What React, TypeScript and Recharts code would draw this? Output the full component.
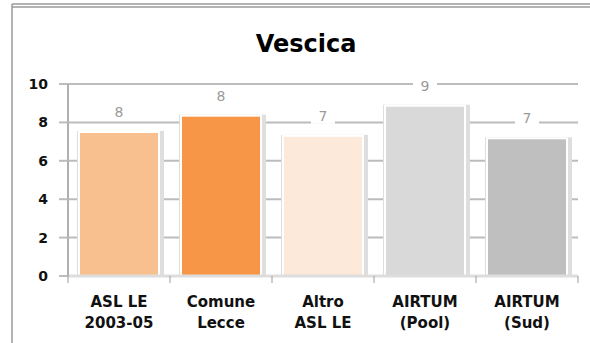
import React from 'react';
import { BarChart, Bar, XAxis, YAxis, CartesianGrid, LabelList } from 'recharts';

const categories = ['ASL LE|2003-05', 'Comune|Lecce', 'Altro|ASL LE', 'AIRTUM|(Pool)', 'AIRTUM|(Sud)'];
const values = [7.5, 8.35, 7.3, 8.87, 7.17];
const colors = ['#F9C08F', '#F79646', '#FDE9D9', '#D9D9D9', '#BFBFBF'];
const yTicks = [0, 2, 4, 6, 8, 10];
const title = 'Vescica';

const data = categories.map((c, i) => ({ name: c, value: values[i], color: colors[i] }));

const FONT = '"DejaVu Sans", sans-serif';

const BarShape = (props: any) => {
  const { x, y, width, height, payload } = props;
  return (
    <g>
      <rect x={x - 2} y={y - 1} width={width + 7} height={height + 1} fill="#dedede" />
      <rect x={x} y={y} width={width} height={height} fill={payload.color} stroke="#ffffff" strokeWidth={2} />
    </g>
  );
};

const ValueLabel = (props: any) => {
  const { x, y, width, value } = props;
  const cx = x + width / 2;
  const cy = y - 20;
  return (
    <g>
      <rect x={cx - 12} y={cy - 8} width={24} height={16} fill="#ffffff" />
      <text x={cx} y={cy + 5} textAnchor="middle" fontFamily={FONT} fontSize={14} fill="#9a9a9a">
        {Math.round(value)}
      </text>
    </g>
  );
};

const XTick = (props: any) => {
  const { x, y, payload, index, visibleTicksCount } = props;
  const band = 510 / categories.length;
  const lines = String(payload.value).split('|');
  return (
    <g>
      <line x1={x - band / 2} x2={x - band / 2} y1={y} y2={y + 7} stroke="#9a9a9a" strokeWidth={1} />
      {index === (visibleTicksCount ?? categories.length) - 1 && (
        <line x1={x + band / 2} x2={x + band / 2} y1={y} y2={y + 7} stroke="#9a9a9a" strokeWidth={1} />
      )}
      <text x={x} y={y + 30.5} textAnchor="middle" fontFamily={FONT} fontWeight="bold" fontSize={15} fill="#111">
        {lines[0]}
      </text>
      <text x={x} y={y + 51.5} textAnchor="middle" fontFamily={FONT} fontWeight="bold" fontSize={15} fill="#111">
        {lines[1]}
      </text>
    </g>
  );
};

export default function App() {
  return (
    <div style={{ position: 'absolute', left: 0, top: 0, width: 590, height: 343, background: '#fff' }}>
      <svg width={590} height={343} style={{ position: 'absolute', left: 0, top: 0 }}>
        <line x1={12} x2={590} y1={4} y2={4} stroke="#9a9a9a" strokeWidth={1.5} />
        <line x1={12} x2={590} y1={7} y2={7} stroke="#9a9a9a" strokeWidth={1.5} />
        <line x1={12} x2={12} y1={4} y2={343} stroke="#9a9a9a" strokeWidth={1.5} />
        <text x={306} y={52} textAnchor="middle" fontFamily={FONT} fontWeight="bold" fontSize={24} fill="#000">
          {title}
        </text>
      </svg>
      <div style={{ position: 'absolute', left: 0, top: 0 }}>
        <BarChart width={590} height={343} data={data} margin={{ top: 84, right: 12, bottom: 0, left: 0 }}>
          <CartesianGrid horizontal={true} vertical={false} stroke="#bcbcbc" strokeWidth={2} />
          <XAxis
            dataKey="name"
            interval={0}
            tickSize={0}
            tickMargin={0}
            height={67}
            axisLine={{ stroke: '#dddddd', strokeWidth: 3 }}
            tick={<XTick />}
          />
          <YAxis
            domain={[0, 10]}
            ticks={yTicks}
            width={68}
            tickSize={9}
            tickMargin={11}
            axisLine={{ stroke: '#b0b0b0', strokeWidth: 2 }}
            tickLine={{ stroke: '#bcbcbc', strokeWidth: 2 }}
            tick={{ fontFamily: FONT, fontWeight: 'bold', fontSize: 14, fill: '#111' }}
          />
          <Bar dataKey="value" barSize={80} isAnimationActive={false} shape={<BarShape />}>
            <LabelList dataKey="value" content={<ValueLabel />} />
          </Bar>
        </BarChart>
      </div>
    </div>
  );
}
